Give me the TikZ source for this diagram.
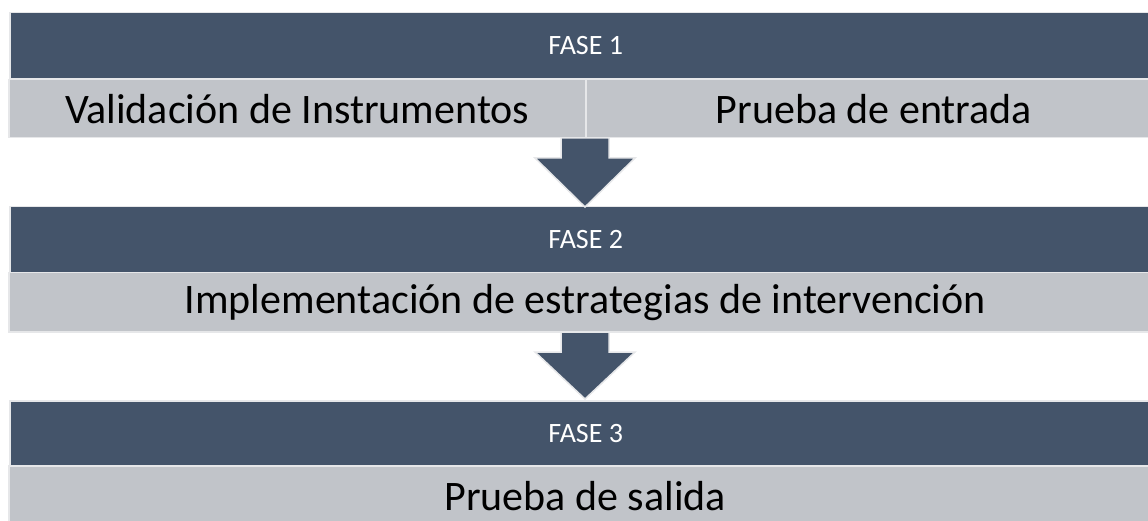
\documentclass[tikz,border=0pt]{standalone}
\usepackage{fontspec}
\setmainfont{Carlito}
\definecolor{darkband}{HTML}{44546A}
\definecolor{lightband}{HTML}{C1C4C9}
\definecolor{edge}{HTML}{E6E7E9}
\tikzset{
  band/.style={rectangle, inner sep=0pt, anchor=north west, draw=edge, line width=1.5pt},
  phase/.style={band, fill=darkband, text=white, font=\fontsize{28}{30}\selectfont},
  cell/.style={band, fill=lightband, text=black, font=\fontsize{42}{46}\selectfont},
  blockarrow/.style={fill=darkband, draw=edge, line width=1.5pt, line join=miter}
}
\begin{document}
\begin{tikzpicture}[x=1pt,y=-1pt]
\useasboundingbox (0,0) rectangle (1148,521);
% Phase 1
\node[phase, minimum width=1152pt, minimum height=66pt] (f1) at (9,12) {FASE 1};
\node[cell, minimum width=577pt, minimum height=58pt] (c1a) at (8,79) {Validación de Instrumentos};
\node[cell, minimum width=576pt, minimum height=58pt] (c1b) at (585,79) {Prueba de entrada};
% Phase 2
\node[phase, minimum width=1152pt, minimum height=66pt] (f2) at (9,206) {FASE 2};
\node[cell, minimum width=1153pt, minimum height=59pt] (c2) at (8,272) {Implementación de estrategias de intervención};
% Phase 3
\node[phase, minimum width=1152pt, minimum height=65pt] (f3) at (9,400) {FASE 3};
\node[cell, minimum width=1153pt, minimum height=60pt] (c3) at (8,465) {Prueba de salida};
% Arrows
\draw[blockarrow] (561,138) -- (609,138) -- (609,158) -- (635,158) -- (585,207) -- (535,158) -- (561,158) -- cycle;
\draw[blockarrow] (561,332) -- (609,332) -- (609,352) -- (635,352) -- (585,399) -- (535,352) -- (561,352) -- cycle;
\end{tikzpicture}
\end{document}
